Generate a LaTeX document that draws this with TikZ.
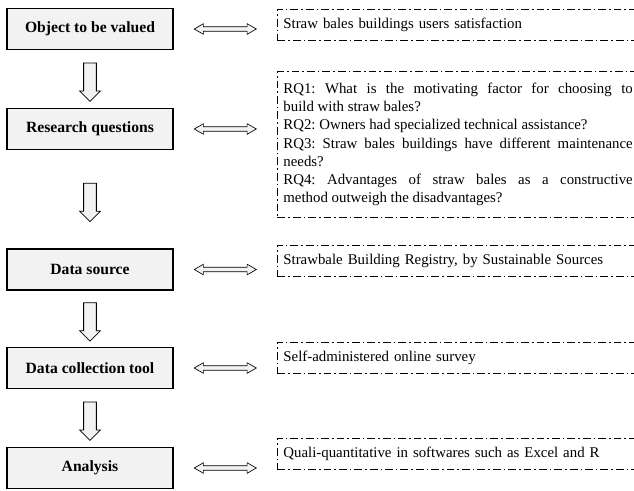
\documentclass[tikz,border=0pt]{standalone}
\usepackage{fontspec}
\setmainfont{Liberation Serif}
\usetikzlibrary{shapes.arrows}
\def\largeur{634}
\def\hauteur{490}

\tikzset{
  etape/.style={draw, line width=0.9pt, fill=black!5, font=\fontsize{12}{14}\selectfont\bfseries,
    minimum width=127.3pt, minimum height=31.4pt},
  detail/.style={draw, line width=0.6pt, dash pattern=on 6pt off 2.3pt on 1.2pt off 2.3pt,
    font=\fontsize{11.4}{14}\selectfont, anchor=west, align=left, text width=276pt,
    inner xsep=4.6pt, minimum height=23.8pt},
  fleche/.style={single arrow, draw, line width=0.6pt, fill=black!5, shape border rotate=270,
    minimum width=15.3pt, minimum height=29.5pt, single arrow head extend=3.1pt, inner sep=4.6pt},
  doublefleche/.style={double arrow, draw, line width=0.5pt, fill=black!5,
    minimum width=7.7pt, minimum height=47.6pt, double arrow head extend=2.3pt,
    double arrow tip angle=60, inner sep=1.5pt}
}

\begin{document}
\begin{tikzpicture}[x=0.767pt, y=-0.767pt]
    \useasboundingbox (0,0) rectangle (\largeur,\hauteur);
%\draw[step=50, black!20!white] (0,0) grid (\largeur,\hauteur);
    \node[etape] (objet) at (90,29) {Object to be valued};
    \node[etape] (questions) at (90,129) {Research questions};
    \node[etape] (source) at (90,269.5) {Data source};
    \node[etape] (outil) at (90,368) {Data collection tool};
    \node[etape] (analyse) at (90,468) {Analysis};

    \node[detail] (satisf) at (277,24.5) {Straw bales buildings users satisfaction};
    \node[detail, align=justify, text width=268pt, minimum height=111.5pt] (rq) at (277,144.5) {%
        \frenchspacing
        RQ1: What is the motivating factor for choosing to\linebreak build with straw bales?\par
        RQ2: Owners had specialized technical assistance?\par
        RQ3: Straw bales buildings have different maintenance\linebreak needs?\par
        RQ4: Advantages of straw bales as a constructive\linebreak method outweigh the disadvantages?};
    \node[detail] (registre) at (277,260.5) {Strawbale Building Registry, by Sustainable Sources};
    \node[detail] (enquete) at (277,357.5) {Self-administered online survey};
    \node[detail] (logiciel) at (277,453.5) {Quali-quantitative in softwares such as Excel and R};

% fleches verticales
    \path (objet) -- node[fleche]{} (questions);
    \path (questions) -- node[fleche]{} (source);
    \path (source) -- node[fleche]{} (outil);
    \path (outil) -- node[fleche]{} (analyse);

% fleches doubles
    \path (objet.east) -- node[doublefleche]{} (objet.east -| satisf.west);
    \path (questions.east) -- node[doublefleche]{} (questions.east -| rq.west);
    \path (source.east) -- node[doublefleche]{} (source.east -| registre.west);
    \path (outil.east) -- node[doublefleche]{} (outil.east -| enquete.west);
    \path (analyse.east) -- node[doublefleche]{} (analyse.east -| logiciel.west);
\end{tikzpicture}
\end{document}
